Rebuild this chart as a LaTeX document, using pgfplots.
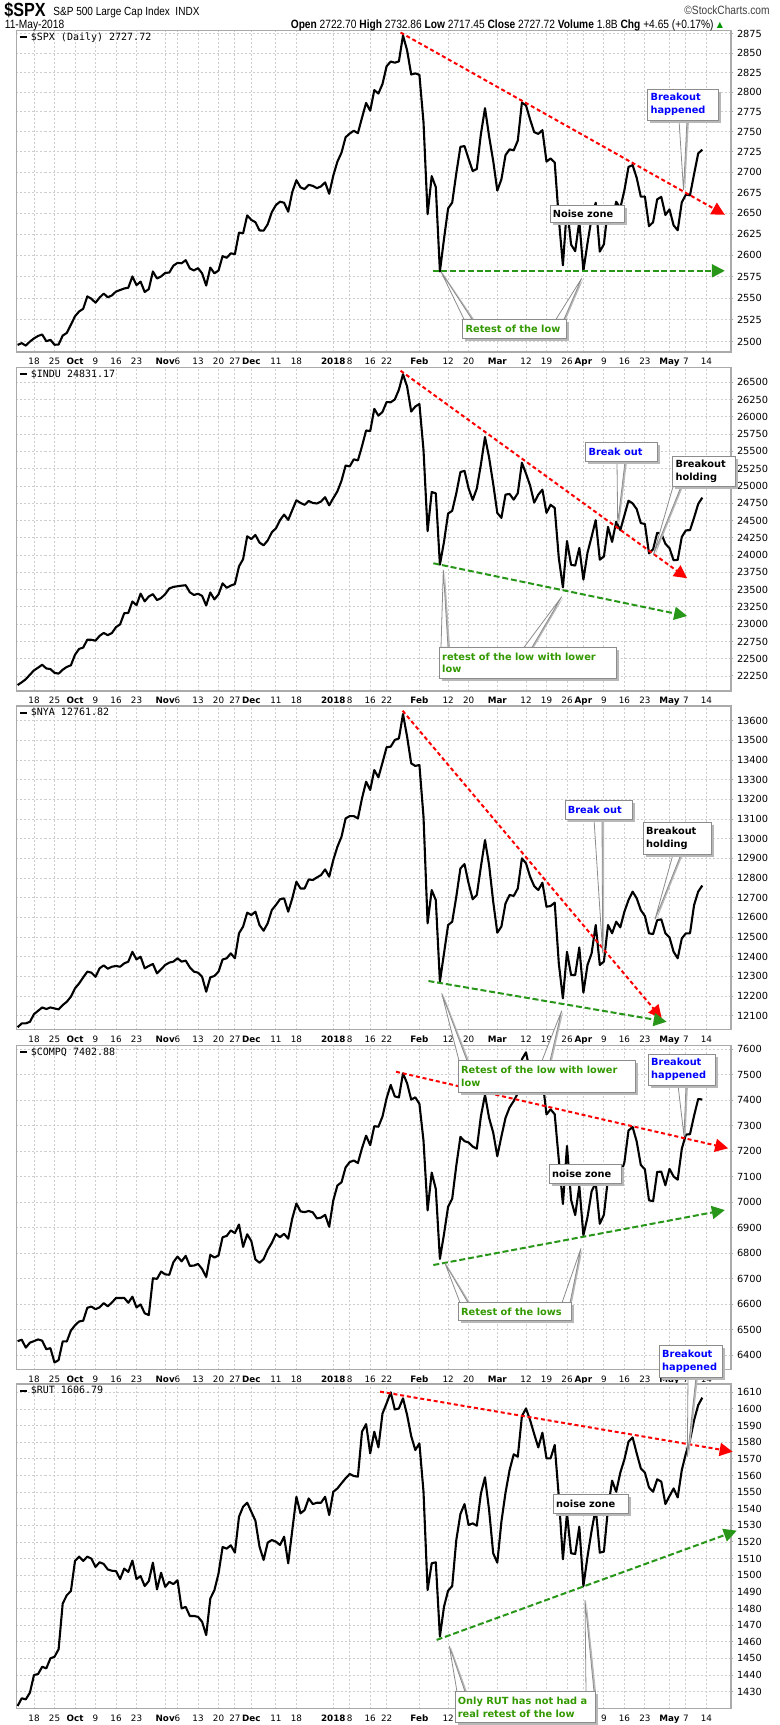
\documentclass[border=0pt]{standalone}
\usepackage{pgfplots}
\pgfplotsset{compat=1.18}
\usepackage{fontspec}
\setmainfont{DejaVu Sans}
\newfontfamily\mono{DejaVu Sans Mono}
\newfontfamily\narrow[FakeStretch=0.85]{Liberation Sans}
\usetikzlibrary{arrows.meta}
\definecolor{tgreen}{RGB}{40,150,25}
\definecolor{lgreen}{RGB}{51,153,0}
\definecolor{tblue}{RGB}{0,0,255}
\definecolor{gridc}{RGB}{205,205,205}
\definecolor{framec}{RGB}{170,170,170}
\definecolor{upgreen}{RGB}{0,150,0}
\newcommand\yfont{\fontsize{4.9pt}{5.5pt}\selectfont}
\newcommand\xfont{\fontsize{4.4pt}{5pt}\selectfont}
\newcommand\cfont{\fontsize{4.9pt}{6.3pt}\selectfont\bfseries}
\pgfplotsset{
  panel/.style={
    scale only axis, width=357.25pt, anchor=south west,
    xmin=-4.27, xmax=170, clip=false,
    axis line style={framec, line width=0.6pt},
    xtick={0,5,10,15,20,25,32,35,40,45,49,53,59,64,73,77,82,86,94,101,106,113,120,125,130,134,139,144,149,155,159,164},
    xticklabels={18,25,\textbf{Oct},9,16,23,\textbf{Nov},6,13,20,27,\textbf{Dec},11,18,\textbf{2018},8,16,22,\textbf{Feb},12,20,\textbf{Mar},12,19,26,\textbf{Apr},9,16,23,\textbf{May},7,14},
    xtick pos=bottom,
    x tick label style={font=\xfont, inner sep=0pt, anchor=north, yshift=-1.7pt, text height=3.3pt, text depth=0pt},
    xtick style={draw=none},
    ytick pos=right, yticklabel pos=right,
    y tick label style={font=\yfont, inner sep=0pt, anchor=west, xshift=1.6pt},
    ytick style={framec, line width=0.5pt},
    tick align=outside, major tick length=1.2pt,
    grid=major,
    major grid style={gridc, line width=0.45pt, dash pattern=on 1pt off 1pt},
  },
  lin/.style={scaled y ticks=false,
    yticklabel={\pgfmathprintnumber[fixed,precision=0,1000 sep={},assume math mode=true]{\tick}}},
  price/.style={black, line width=1.05pt, line join=round, mark=none},
  redtr/.style={red, line width=1pt, dash pattern=on 2pt off 1.4pt, mark=none, -{Triangle[length=6.5pt,width=6.5pt]}},
  greentr/.style={tgreen, line width=1pt, dash pattern=on 3pt off 1.4pt, mark=none, -{Triangle[length=6.5pt,width=6.5pt]}},
}
\newcommand\callbox[6]{%
  \fill[black!28] ({#1+2.5},{#2+2.5}) rectangle ({#3+2.5},{#4+2.5});
  \filldraw[draw=black!45, fill=white, line width=0.5pt] (#1,#2) rectangle (#3,#4);
  \node[anchor=west, inner sep=0pt, align=left, text=#5, font=\cfont] at ({#1+2.5},{(#2+#4)/2}) {#6};}
\newcommand\callptr[6]{%
  \fill[black!28] ({#1+2},{#2}) -- ({#5+1.5},{#6+1}) -- ({#3+2},{#4}) -- cycle;
  \filldraw[draw=black!45, fill=white, line width=0.4pt] (#1,#2) -- (#5,#6) -- (#3,#4) -- cycle;}
\newcommand\leg[2]{%
  \draw[black, line width=1pt] (20,{#1+6.5}) -- (27,{#1+6.5});
  \node[anchor=west, inner sep=0pt, font=\mono\fontsize{5pt}{6pt}\selectfont] at (30.5,{#1+6.5}) {#2};}
\begin{document}
\begin{tikzpicture}
\useasboundingbox (0,0) rectangle (390pt,-862.5pt);
% ---------------- SPX ----------------
\begin{axis}[panel, at={(8.25pt,-176.1pt)}, height=160.7pt, ymode=log, ymin=2488.4, ymax=2879.2,
  ytick={2500,2525,2550,2575,2600,2625,2650,2675,2700,2725,2750,2775,2800,2825,2850,2875},
  yticklabels={2500,2525,2550,2575,2600,2625,2650,2675,2700,2725,2750,2775,2800,2825,2850,2875}]
\addplot[price] coordinates {(-4,2496.48)(-3,2498.37)(-2,2495.62)(-1,2500.23)(0,2503.87)(1,2506.65)(2,2508.24)(3,2500.60)(4,2502.22)(5,2496.66)(6,2496.84)(7,2507.04)(8,2510.06)(9,2519.36)(10,2529.12)(11,2534.58)(12,2537.74)(13,2552.07)(14,2549.33)(15,2544.73)(16,2550.64)(17,2555.24)(18,2550.93)(19,2553.17)(20,2557.64)(21,2559.36)(22,2561.26)(23,2562.10)(24,2575.21)(25,2564.98)(26,2569.13)(27,2557.15)(28,2560.40)(29,2581.07)(30,2572.83)(31,2575.26)(32,2579.36)(33,2579.85)(34,2587.84)(35,2591.13)(36,2590.64)(37,2594.38)(38,2584.62)(39,2582.30)(40,2584.84)(41,2578.87)(42,2564.62)(43,2585.64)(44,2578.85)(45,2582.14)(46,2599.03)(47,2597.08)(48,2602.42)(49,2601.42)(50,2627.04)(51,2626.07)(52,2647.58)(53,2642.22)(54,2639.44)(55,2629.57)(56,2629.27)(57,2636.98)(58,2651.50)(59,2659.99)(60,2664.11)(61,2662.85)(62,2652.01)(63,2675.81)(64,2690.16)(65,2681.47)(66,2679.25)(67,2684.57)(68,2683.34)(69,2680.50)(70,2682.62)(71,2687.54)(72,2673.61)(73,2695.81)(74,2713.06)(75,2723.99)(76,2743.15)(77,2747.71)(78,2751.29)(79,2748.23)(80,2767.56)(81,2786.24)(82,2776.42)(83,2802.56)(84,2798.03)(85,2810.30)(86,2832.97)(87,2839.13)(88,2837.54)(89,2839.25)(90,2872.87)(91,2853.53)(92,2822.43)(93,2823.81)(94,2821.98)(95,2762.13)(96,2648.94)(97,2695.14)(98,2681.66)(99,2581.00)(100,2619.55)(101,2656.00)(102,2662.94)(103,2698.63)(104,2731.20)(105,2732.22)(106,2716.26)(107,2701.33)(108,2703.96)(109,2747.30)(110,2779.60)(111,2744.28)(112,2713.83)(113,2677.67)(114,2691.25)(115,2720.94)(116,2728.12)(117,2726.80)(118,2738.97)(119,2786.57)(120,2783.02)(121,2765.31)(122,2749.48)(123,2747.33)(124,2752.01)(125,2712.92)(126,2716.94)(127,2711.93)(128,2643.69)(129,2588.26)(130,2658.55)(131,2612.62)(132,2605.00)(133,2640.87)(134,2581.88)(135,2614.45)(136,2644.69)(137,2662.84)(138,2604.47)(139,2613.16)(140,2656.87)(141,2642.19)(142,2663.99)(143,2656.30)(144,2677.84)(145,2706.39)(146,2708.64)(147,2693.13)(148,2670.14)(149,2670.29)(150,2634.56)(151,2639.40)(152,2666.94)(153,2669.91)(154,2648.05)(155,2654.80)(156,2635.67)(157,2629.73)(158,2663.42)(159,2672.63)(160,2671.92)(161,2697.79)(162,2723.07)(163,2727.72)};
\addplot[redtr] coordinates {(89.4,2876.7) (168.5,2648.3)};
\addplot[greentr] coordinates {(97.2,2581.8) (168.5,2581.8)};
\end{axis}
% ---------------- INDU ----------------
\begin{axis}[panel, lin, at={(8.25pt,-345.45pt)}, height=161.7pt, ymin=22034, ymax=26714,
  ytick={22250,22500,...,26500}]
\addplot[price] coordinates {(-4,22118.86)(-3,22158.18)(-2,22203.48)(-1,22268.34)(0,22331.35)(1,22370.80)(2,22412.59)(3,22359.23)(4,22349.59)(5,22296.09)(6,22284.32)(7,22340.71)(8,22381.20)(9,22405.09)(10,22557.60)(11,22641.67)(12,22661.64)(13,22775.39)(14,22773.67)(15,22761.07)(16,22830.68)(17,22872.89)(18,22841.01)(19,22871.72)(20,22956.96)(21,22997.44)(22,23157.60)(23,23163.04)(24,23328.63)(25,23273.96)(26,23441.76)(27,23329.46)(28,23400.86)(29,23434.19)(30,23348.74)(31,23377.24)(32,23435.01)(33,23516.26)(34,23539.19)(35,23548.42)(36,23557.23)(37,23563.36)(38,23461.94)(39,23422.21)(40,23439.70)(41,23409.47)(42,23271.28)(43,23458.36)(44,23358.24)(45,23430.33)(46,23590.83)(47,23526.18)(48,23557.99)(49,23580.78)(50,23836.71)(51,23940.68)(52,24272.35)(53,24231.59)(54,24290.05)(55,24180.64)(56,24140.91)(57,24211.48)(58,24329.16)(59,24386.03)(60,24504.80)(61,24585.43)(62,24508.66)(63,24651.74)(64,24792.20)(65,24754.75)(66,24726.65)(67,24782.29)(68,24754.06)(69,24746.21)(70,24774.30)(71,24837.51)(72,24719.22)(73,24824.01)(74,24922.68)(75,25075.13)(76,25295.87)(77,25283.00)(78,25385.80)(79,25369.13)(80,25574.73)(81,25803.19)(82,25792.86)(83,26115.65)(84,26017.81)(85,26071.72)(86,26214.60)(87,26210.81)(88,26252.12)(89,26392.79)(90,26616.71)(91,26439.48)(92,26076.89)(93,26149.39)(94,26186.71)(95,25520.96)(96,24345.75)(97,24912.77)(98,24893.35)(99,23860.46)(100,24190.90)(101,24601.27)(102,24640.45)(103,24893.49)(104,25200.37)(105,25219.38)(106,24964.75)(107,24797.78)(108,24962.48)(109,25309.99)(110,25709.27)(111,25410.03)(112,25029.20)(113,24608.98)(114,24538.06)(115,24874.76)(116,24884.12)(117,24801.36)(118,24895.21)(119,25335.74)(120,25178.61)(121,25007.03)(122,24758.12)(123,24873.66)(124,24946.51)(125,24610.91)(126,24727.27)(127,24682.31)(128,23957.89)(129,23533.20)(130,24202.60)(131,23857.71)(132,23848.42)(133,24103.11)(134,23644.19)(135,24033.36)(136,24264.30)(137,24505.22)(138,23932.76)(139,23979.10)(140,24408.00)(141,24189.45)(142,24483.05)(143,24360.14)(144,24573.04)(145,24786.63)(146,24748.07)(147,24664.89)(148,24462.94)(149,24448.69)(150,24024.13)(151,24083.83)(152,24322.34)(153,24311.19)(154,24163.15)(155,24099.05)(156,23924.98)(157,23930.15)(158,24262.51)(159,24357.32)(160,24360.21)(161,24542.54)(162,24739.53)(163,24831.17)};
\addplot[redtr] coordinates {(89.4,26668) (159.3,23664)};
\addplot[greentr] coordinates {(97.4,23881) (159.3,23118)};
\end{axis}
% ---------------- NYA ----------------
\begin{axis}[panel, lin, at={(8.25pt,-514.9pt)}, height=161.9pt, ymin=12028.3, ymax=13674.7,
  ytick={12100,12200,...,13600}]
\addplot[price] coordinates {(-4,12041)(-3,12061)(-2,12061)(-1,12069)(0,12108)(1,12125)(2,12142)(3,12134)(4,12142)(5,12137)(6,12132)(7,12154)(8,12171)(9,12197)(10,12239)(11,12264)(12,12295)(13,12324)(14,12319)(15,12298)(16,12341)(17,12356)(18,12339)(19,12349)(20,12353)(21,12349)(22,12366)(23,12375)(24,12425)(25,12386)(26,12400)(27,12341)(28,12353)(29,12363)(30,12315)(31,12336)(32,12358)(33,12370)(34,12375)(35,12392)(36,12375)(37,12380)(38,12346)(39,12324)(40,12319)(41,12298)(42,12222)(43,12295)(44,12302)(45,12324)(46,12386)(47,12392)(48,12417)(49,12392)(50,12519)(51,12553)(52,12624)(53,12612)(54,12629)(55,12561)(56,12532)(57,12570)(58,12637)(59,12663)(60,12692)(61,12697)(62,12629)(63,12697)(64,12781)(65,12747)(66,12747)(67,12793)(68,12790)(69,12803)(70,12815)(71,12844)(72,12807)(73,12892)(74,12959)(75,13010)(76,13103)(77,13115)(78,13115)(79,13103)(80,13205)(81,13290)(82,13248)(83,13349)(84,13312)(85,13387)(86,13465)(87,13468)(88,13502)(89,13510)(90,13634)(91,13519)(92,13383)(93,13370)(94,13375)(95,13112)(96,12570)(97,12739)(98,12688)(99,12273)(100,12417)(101,12561)(102,12578)(103,12705)(104,12849)(105,12871)(106,12773)(107,12692)(108,12714)(109,12858)(110,12993)(111,12866)(112,12680)(113,12522)(114,12553)(115,12671)(116,12714)(117,12709)(118,12747)(119,12900)(120,12875)(121,12807)(122,12759)(123,12739)(124,12776)(125,12654)(126,12658)(127,12675)(128,12366)(129,12188)(130,12425)(131,12307)(132,12307)(133,12447)(134,12217)(135,12358)(136,12417)(137,12561)(138,12358)(139,12375)(140,12561)(141,12519)(142,12578)(143,12549)(144,12629)(145,12688)(146,12731)(147,12697)(148,12637)(149,12607)(150,12519)(151,12515)(152,12586)(153,12590)(154,12519)(155,12498)(156,12425)(157,12392)(158,12493)(159,12519)(160,12519)(161,12663)(162,12731)(163,12761.82)};
\addplot[redtr] coordinates {(89.9,13650.8) (153.1,12086.8)};
\addplot[greentr] coordinates {(96.2,12276.5) (154.3,12069.5)};
\end{axis}
% ---------------- COMPQ ----------------
\begin{axis}[panel, lin, at={(8.25pt,-684.85pt)}, height=162.1pt, ymin=6342.3, ymax=7614.9,
  ytick={6400,6500,...,7600}]
\addplot[price] coordinates {(-4,6454.28)(-3,6460.19)(-2,6429.08)(-1,6448.47)(0,6454.64)(1,6461.32)(2,6456.04)(3,6422.69)(4,6426.92)(5,6370.59)(6,6380.16)(7,6453.45)(8,6453.26)(9,6495.96)(10,6516.72)(11,6531.71)(12,6534.63)(13,6585.36)(14,6590.18)(15,6579.73)(16,6587.25)(17,6603.55)(18,6591.51)(19,6605.80)(20,6624.00)(21,6623.66)(22,6624.22)(23,6605.07)(24,6629.05)(25,6586.83)(26,6598.43)(27,6563.89)(28,6556.77)(29,6701.26)(30,6698.96)(31,6727.67)(32,6716.53)(33,6714.94)(34,6764.44)(35,6786.44)(36,6767.78)(37,6789.12)(38,6750.05)(39,6750.94)(40,6757.60)(41,6737.87)(42,6706.21)(43,6793.29)(44,6782.79)(45,6790.71)(46,6862.48)(47,6867.36)(48,6889.16)(49,6878.52)(50,6912.36)(51,6824.39)(52,6873.97)(53,6847.59)(54,6775.37)(55,6762.21)(56,6776.38)(57,6812.84)(58,6840.08)(59,6875.08)(60,6862.32)(61,6875.80)(62,6856.53)(63,6936.58)(64,6994.76)(65,6963.85)(66,6960.96)(67,6965.36)(68,6959.96)(69,6936.25)(70,6939.34)(71,6950.16)(72,6903.39)(73,7006.90)(74,7065.53)(75,7077.91)(76,7136.56)(77,7157.39)(78,7163.58)(79,7153.57)(80,7211.78)(81,7261.06)(82,7223.69)(83,7298.28)(84,7296.05)(85,7336.38)(86,7408.03)(87,7460.29)(88,7415.06)(89,7411.16)(90,7505.77)(91,7466.51)(92,7402.48)(93,7411.48)(94,7385.86)(95,7240.95)(96,6967.53)(97,7115.88)(98,7051.98)(99,6777.16)(100,6874.49)(101,6981.96)(102,7013.51)(103,7143.62)(104,7256.43)(105,7239.47)(106,7234.31)(107,7218.23)(108,7210.09)(109,7337.39)(110,7421.46)(111,7330.35)(112,7273.01)(113,7180.56)(114,7257.87)(115,7330.70)(116,7372.01)(117,7396.65)(118,7427.95)(119,7560.81)(120,7588.32)(121,7511.01)(122,7496.81)(123,7481.74)(124,7481.99)(125,7344.24)(126,7364.30)(127,7345.29)(128,7166.68)(129,6992.67)(130,7220.54)(131,7008.81)(132,6949.23)(133,7063.45)(134,6870.12)(135,6941.28)(136,7042.11)(137,7076.55)(138,6915.11)(139,6950.34)(140,7094.30)(141,7069.03)(142,7140.25)(143,7106.65)(144,7156.28)(145,7281.10)(146,7295.24)(147,7238.06)(148,7146.13)(149,7128.60)(150,7007.35)(151,7003.74)(152,7118.68)(153,7119.80)(154,7066.27)(155,7130.70)(156,7100.90)(157,7088.15)(158,7209.62)(159,7265.21)(160,7266.90)(161,7339.91)(162,7404.97)(163,7402.88)};
\addplot[redtr] coordinates {(88.3,7512) (169.3,7211.4)};
\addplot[greentr] coordinates {(97.4,6753.3) (168.5,6969)};
\end{axis}
% ---------------- RUT ----------------
\begin{axis}[panel, lin, at={(8.25pt,-854.3pt)}, height=162.3pt, ymin=1419.8, ymax=1615,
  ytick={1430,1440,...,1610},
  xticklabels={18,25,\textbf{Oct},9,16,23,\textbf{Nov},6,13,20,27,\textbf{Dec},11,18,\textbf{2018},8,16,22,\textbf{Feb},12,{},{},{},{},{},{},9,16,23,\textbf{May},7,14}]
\addplot[price] coordinates {(-4,1421.4)(-3,1426.0)(-2,1425.4)(-1,1429.4)(0,1440.0)(1,1440.6)(2,1445.0)(3,1444.0)(4,1450.0)(5,1451.0)(6,1455.5)(7,1483.0)(8,1488.0)(9,1490.5)(10,1508.6)(11,1511.2)(12,1508.6)(13,1511.2)(14,1510.0)(15,1505.0)(16,1507.8)(17,1506.8)(18,1503.5)(19,1502.7)(20,1502.5)(21,1497.7)(22,1504.0)(23,1502.0)(24,1508.8)(25,1497.7)(26,1499.5)(27,1493.5)(28,1496.5)(29,1507.6)(30,1491.5)(31,1501.5)(32,1493.0)(33,1496.0)(34,1494.7)(35,1497.0)(36,1480.0)(37,1481.0)(38,1475.5)(39,1475.5)(40,1475.0)(41,1472.0)(42,1464.0)(43,1486.0)(44,1491.0)(45,1501.0)(46,1517.0)(47,1516.0)(48,1518.0)(49,1513.6)(50,1535.2)(51,1541.2)(52,1543.6)(53,1538.2)(54,1532.8)(55,1517.2)(56,1509.2)(57,1519.6)(58,1521.2)(59,1520.2)(60,1518.2)(61,1523.2)(62,1507.2)(63,1527.2)(64,1547.2)(65,1537.2)(66,1539.2)(67,1546.2)(68,1542.8)(69,1543.6)(70,1543.6)(71,1547.2)(72,1536.2)(73,1550.2)(74,1552.2)(75,1555.3)(76,1558.3)(77,1560.9)(78,1559.7)(79,1559.3)(80,1586.3)(81,1590.9)(82,1573.3)(83,1586.3)(84,1576.9)(85,1597.3)(86,1603.4)(87,1610.0)(88,1599.7)(89,1600.3)(90,1606.4)(91,1596.4)(92,1583.7)(93,1575.3)(94,1579.3)(95,1550.2)(96,1491.1)(97,1507.2)(98,1507.8)(99,1463.1)(100,1481.1)(101,1490.7)(102,1493.5)(103,1521.2)(104,1536.8)(105,1542.8)(106,1530.2)(107,1531.2)(108,1529.8)(109,1549.2)(110,1558.9)(111,1539.2)(112,1513.2)(113,1507.6)(114,1532.2)(115,1549.6)(116,1563.3)(117,1572.7)(118,1571.3)(119,1595.7)(120,1600.3)(121,1593.3)(122,1584.9)(123,1576.9)(124,1585.7)(125,1570.3)(126,1570.3)(127,1578.3)(128,1547.2)(129,1509.6)(130,1537.2)(131,1513.2)(132,1512.8)(133,1529.2)(134,1493.5)(135,1511.2)(136,1526.8)(137,1540.2)(138,1513.6)(139,1514.2)(140,1540.2)(141,1556.9)(142,1550.2)(143,1561.7)(144,1569.7)(145,1580.3)(146,1582.9)(147,1573.3)(148,1564.3)(149,1561.7)(150,1552.8)(151,1550.2)(152,1557.7)(153,1556.3)(154,1542.8)(155,1547.6)(156,1552.2)(157,1546.8)(158,1563.3)(159,1573.3)(160,1581.3)(161,1593.3)(162,1602.3)(163,1606.79)};
\addplot[redtr] coordinates {(84.4,1610.4) (170.4,1574.3)};
\addplot[greentr] coordinates {(98.2,1461.1) (171.4,1526.8)};
\end{axis}
% ---------------- annotations (pixel units) ----------------
\begin{scope}[x=0.5pt,y=-0.5pt]
\node[anchor=base west, inner sep=0pt, font=\narrow\bfseries\fontsize{9.5pt}{10pt}\selectfont] at (4,16.5) {\$SPX};
\node[anchor=base west, inner sep=0pt, font=\narrow\fontsize{5.9pt}{7pt}\selectfont] at (53,15.5) {S\&P 500 Large Cap Index\ \ INDX};
\node[anchor=base west, inner sep=0pt, font=\narrow\fontsize{6pt}{7pt}\selectfont] at (4.5,28) {11-May-2018};
\node[anchor=base east, inner sep=0pt, font=\narrow\fontsize{6pt}{7pt}\selectfont] at (714,28) {\textbf{Open} 2722.70 \textbf{High} 2732.86 \textbf{Low} 2717.45 \textbf{Close} 2727.72 \textbf{Volume} 1.8B \textbf{Chg} +4.65 (+0.17\%)};
\node[anchor=base, inner sep=0pt, text=upgreen, font=\fontsize{4pt}{4pt}\selectfont] at (720,27) {▲};
\node[anchor=base east, inner sep=0pt, font=\narrow\fontsize{6pt}{7pt}\selectfont, text=black!75] at (770,14) {©StockCharts.com};
\leg{30.8}{\$SPX (Daily) 2727.72}
\leg{367.5}{\$INDU 24831.17}
\leg{706}{\$NYA 12761.82}
\leg{1045.5}{\$COMPQ 7402.88}
\leg{1384}{\$RUT 1606.79}
% pointers
\callptr{679}{120}{687}{120}{683.5}{190}
\callptr{464}{319.3}{472}{319.3}{441}{271.7}
\callptr{556}{319.3}{564}{319.3}{581.7}{278.3}
\callptr{617}{461.7}{625}{461.7}{617.7}{523.3}
\callptr{673}{486.7}{681}{486.7}{653.3}{555}
\callptr{441}{647.3}{448}{647.3}{443.3}{570}
\callptr{524}{647.3}{532}{647.3}{561.7}{596.7}
\callptr{594}{819.3}{602}{819.3}{602.7}{953.3}
\callptr{673}{854.3}{681}{854.3}{655}{919.3}
\callptr{459}{1060.7}{467}{1060.7}{441.7}{993.3}
\callptr{542}{1060.7}{550}{1060.7}{561.7}{1010.7}
\callptr{678}{1085}{686}{1085}{684}{1136}
\callptr{460}{1302.7}{468}{1302.7}{445}{1263.3}
\callptr{562}{1302.7}{570}{1302.7}{581}{1248.3}
\callptr{688}{1377.3}{696}{1377.3}{687.3}{1456.7}
\callptr{457}{1691.7}{465}{1691.7}{449.3}{1646}
\callptr{586}{1691.7}{594}{1691.7}{585}{1600}
% boxes
\callbox{550}{205}{624}{222.3}{black}{Noise zone}
\callbox{647.7}{89}{718.3}{120}{tblue}{Breakout\\happened}
\callbox{462.7}{319.3}{566.7}{338.3}{lgreen}{Retest of the low}
\callbox{585.7}{442.7}{657.3}{461.7}{tblue}{Break out}
\callbox{672.7}{456}{735}{486.7}{black}{Breakout\\holding}
\callbox{439.3}{647.3}{616.7}{678.3}{lgreen}{retest of the low with lower\\low}
\callbox{565}{800}{632.3}{819.3}{tblue}{Break out}
\callbox{643.3}{822.7}{711.7}{854.3}{black}{Breakout\\holding}
\callbox{458.3}{1060.7}{635}{1092.3}{lgreen}{Retest of the low with lower\\low}
\callbox{549.3}{1164.3}{621.7}{1183.3}{black}{noise zone}
\callbox{648.3}{1054}{715}{1085}{tblue}{Breakout\\happened}
\callbox{458.3}{1302.7}{571.7}{1320}{lgreen}{Retest of the lows}
\callbox{659.3}{1345}{722.3}{1377.3}{tblue}{Breakout\\happened}
\callbox{553.3}{1494.3}{628.3}{1513.3}{black}{noise zone}
\callbox{455}{1691.7}{595}{1722.7}{lgreen}{Only RUT has not had a\\real retest of the low}
\end{scope}
\end{tikzpicture}
\end{document}
